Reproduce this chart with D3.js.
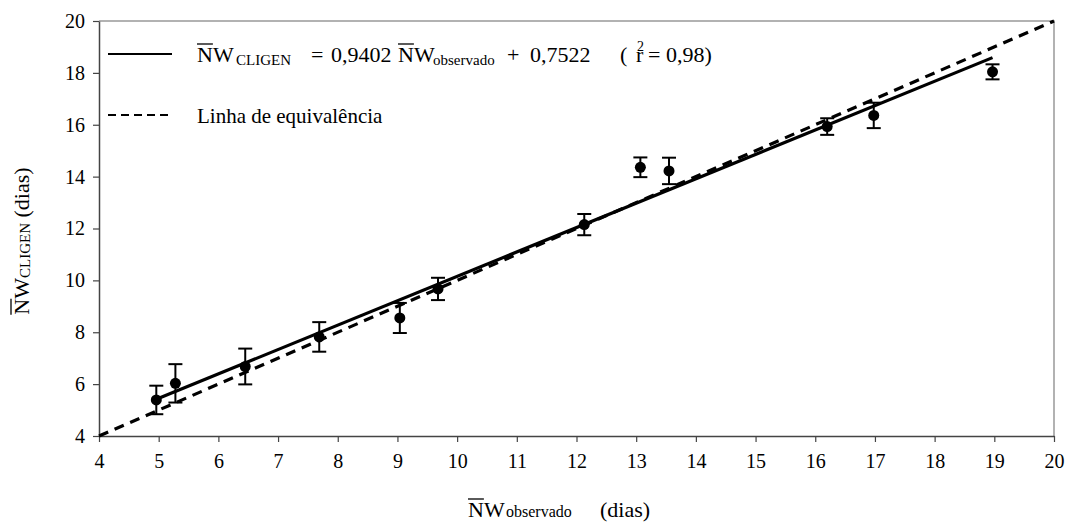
<!DOCTYPE html>
<html>
<head>
<meta charset="utf-8">
<script src="https://cdn.jsdelivr.net/npm/d3@7"></script>
</head>
<body style="margin:0">
<script>
// data
var observado = [4.96, 5.28, 6.45, 7.69, 9.04, 9.68, 12.13, 13.07, 13.55, 16.2, 16.98, 18.97];
var cligen    = [5.39, 6.03, 6.68, 7.82, 8.55, 9.67, 12.15, 14.36, 14.22, 15.93, 16.36, 18.04];
var erro      = [0.55, 0.74, 0.69, 0.57, 0.58, 0.43, 0.41, 0.38, 0.51, 0.32, 0.49, 0.29];
var xTicks = [4, 5, 6, 7, 8, 9, 10, 11, 12, 13, 14, 15, 16, 17, 18, 19, 20];
var yTicks = [4, 6, 8, 10, 12, 14, 16, 18, 20];
var slope = 0.9402, intercept = 0.7522;

var FONT = "'Liberation Serif'";

var svgWidth = 1066, svgHeight = 524;
var margin = { top: 21, right: 12, bottom: 88, left: 99 };

var svg = d3.select("body").append("svg")
    .attr("width", svgWidth)
    .attr("height", svgHeight);

var x = d3.scaleLinear().domain([4, 20]).range([margin.left, svgWidth - margin.right]);
var y = d3.scaleLinear().domain([4, 20]).range([svgHeight - margin.bottom, margin.top]);

// frame (top + right)
svg.append("path")
    .attr("d", `M${x(4)},${y(20)}H${x(20)}V${y(4)}`)
    .attr("fill", "none")
    .attr("stroke", "#999")
    .attr("stroke-width", 1.5);

// axes
var xAxis = svg.append("g")
    .attr("transform", `translate(0,${y(4)})`)
    .call(d3.axisBottom(x).tickValues(xTicks).tickSize(6).tickSizeOuter(0).tickPadding(12));
var yAxis = svg.append("g")
    .attr("transform", `translate(${x(4)},0)`)
    .call(d3.axisLeft(y).tickValues(yTicks).tickSize(6).tickSizeOuter(0).tickPadding(8));

[xAxis, yAxis].forEach(function(g) {
    g.attr("font-family", FONT).attr("font-size", 20);
    g.select(".domain").attr("stroke", "#444").attr("stroke-width", 1.5);
    g.selectAll(".tick line").attr("stroke", "#444").attr("stroke-width", 1.2);
    g.selectAll(".tick text").attr("fill", "#000");
});

// equivalence line (1:1)
svg.append("line")
    .attr("x1", x(4)).attr("y1", y(4))
    .attr("x2", x(20)).attr("y2", y(20))
    .attr("stroke", "#000")
    .attr("stroke-width", 3.2)
    .attr("stroke-dasharray", "10,7");

// regression line
var xr = d3.extent(observado);
svg.append("line")
    .attr("x1", x(xr[0])).attr("y1", y(slope * xr[0] + intercept))
    .attr("x2", x(xr[1])).attr("y2", y(slope * xr[1] + intercept))
    .attr("stroke", "#000")
    .attr("stroke-width", 3.2);

// error bars
var pts = observado.map(function(d, i) { return { x: d, y: cligen[i], e: erro[i] }; });
var eb = svg.append("g").attr("stroke", "#000").attr("stroke-width", 2);
pts.forEach(function(p) {
    eb.append("line").attr("x1", x(p.x)).attr("x2", x(p.x))
        .attr("y1", y(p.y - p.e)).attr("y2", y(p.y + p.e));
    [p.y - p.e, p.y + p.e].forEach(function(v) {
        eb.append("line").attr("x1", x(p.x) - 7).attr("x2", x(p.x) + 7)
            .attr("y1", y(v)).attr("y2", y(v));
    });
});

svg.append("g").selectAll("circle")
    .data(pts)
    .enter()
    .append("circle")
    .attr("cx", d => x(d.x))
    .attr("cy", d => y(d.y))
    .attr("r", 5.5)
    .attr("fill", "#000");

// N with overline (line drawn afterwards)
function nw(t, px) {
    var n = t.append("tspan").attr("class", "ovl").text("N");
    if (px != null) n.attr("x", px);
    t.append("tspan").text("W");
}
function piece(t, s, px, size, dy) {
    var sp = t.append("tspan").attr("font-size", size).text(s);
    if (px != null) sp.attr("x", px);
    if (dy) sp.attr("dy", dy);
    return sp;
}

// legend
svg.append("line").attr("x1", 108).attr("x2", 172).attr("y1", 54).attr("y2", 54)
    .attr("stroke", "#000").attr("stroke-width", 2);
var l1 = svg.append("text").attr("x", 197).attr("y", 62)
    .attr("font-size", 22).attr("font-family", FONT);
nw(l1, 197);
piece(l1, "CLIGEN", 236, 15, 3);
piece(l1, "=", 311, 22, -3);
piece(l1, "0,9402", 331, 22);
nw(l1, 398);
piece(l1, "observado", 433, 15, 3);
piece(l1, "+", 507, 22, -3);
piece(l1, "0,7522", 530, 22);
piece(l1, "(", 620, 22);
piece(l1, "r", 636, 22);
piece(l1, "2", 637, 14, -11);
piece(l1, "= 0,98)", 648, 22, 11);

svg.append("line").attr("x1", 108).attr("x2", 172).attr("y1", 115).attr("y2", 115)
    .attr("stroke", "#000").attr("stroke-width", 2).attr("stroke-dasharray", "8,5");
svg.append("text").attr("x", 197).attr("y", 123)
    .attr("font-size", 21).attr("font-family", FONT)
    .text("Linha de equivalência");

// axis titles
var xt = svg.append("text").attr("x", 468).attr("y", 517)
    .attr("font-size", 22).attr("font-family", FONT);
nw(xt, 468);
piece(xt, "observado", 506, 16);
piece(xt, "(dias)", 600, 22);

var yt = svg.append("text")
    .attr("transform", "translate(29,241) rotate(-90)")
    .attr("text-anchor", "middle")
    .attr("font-size", 22).attr("font-family", FONT);
nw(yt);
piece(yt, "CLIGEN", null, 15, 1);
piece(yt, " (dias)", null, 22, -1).attr("xml:space", "preserve");

// overline over every N
svg.selectAll("tspan.ovl").each(function() {
    var p = this.getExtentOfChar(0);
    var t = this.parentNode;
    var m = t.getAttribute("transform");
    var l = d3.select(t.parentNode).append("line")
        .attr("x1", p.x).attr("x2", p.x + p.width)
        .attr("y1", p.y + 2).attr("y2", p.y + 2)
        .attr("stroke", "#000").attr("stroke-width", 1.3);
    if (m) l.attr("transform", m);
});
</script>
</body>
</html>
